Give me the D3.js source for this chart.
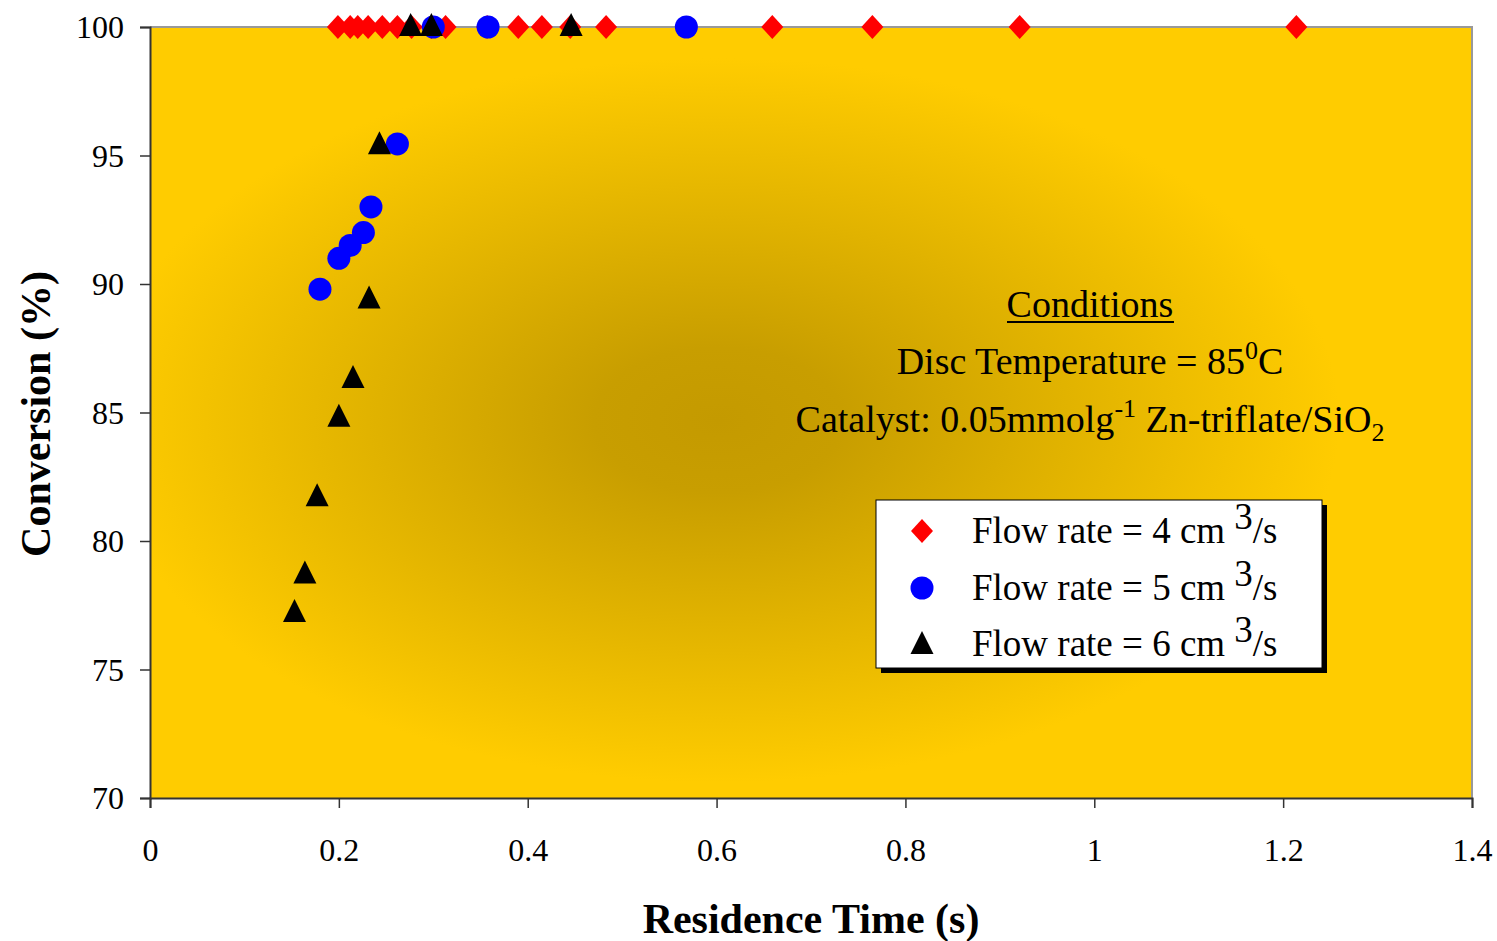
<!DOCTYPE html>
<html><head><meta charset="utf-8">
<script src="https://cdn.jsdelivr.net/npm/d3@7"></script>
<style>body{margin:0;background:#fff}svg{display:block}text{font-family:"Liberation Serif","Times New Roman",serif}</style>
</head><body><svg id="c" width="1497" height="941"></svg>
<script>
const flow4X = [0.199,0.212,0.220,0.231,0.246,0.262,0.277,0.298,0.313,0.357,0.390,0.415,0.445,0.483,0.659,0.765,0.921,1.214];
const flow4Y = [100,100,100,100,100,100,100,100,100,100,100,100,100,100,100,100,100,100];
const flow5X = [0.180,0.200,0.212,0.226,0.234,0.262,0.300,0.358,0.568];
const flow5Y = [89.8,91.0,91.5,92.0,93.0,95.45,100,100,100];
const flow6X = [0.153,0.164,0.177,0.200,0.215,0.232,0.243,0.276,0.298,0.446];
const flow6Y = [77.2,78.7,81.7,84.8,86.3,89.4,95.4,100,100,100];
const xTicks = [0,0.2,0.4,0.6,0.8,1,1.2,1.4];
const xTickLabels = ["0","0.2","0.4","0.6","0.8","1","1.2","1.4"];
const yTicks = [70,75,80,85,90,95,100];
const legendLabels = ["Flow rate = 4 cm ","Flow rate = 5 cm ","Flow rate = 6 cm "];

const svg = d3.select("#c");
const L=150,R=1472,T=27,B=798;
const x = d3.scaleLinear().domain([0,1.4]).range([L,R]);
const y = d3.scaleLinear().domain([70,100]).range([B,T]);

const defs = svg.append("defs");
const g = defs.append("radialGradient").attr("id","bg").attr("cx",0.43).attr("cy",0.51).attr("r",0.47);
g.append("stop").attr("offset",0).attr("stop-color","#c49a00");
g.append("stop").attr("offset",0.2).attr("stop-color","#c89e00");
g.append("stop").attr("offset",1).attr("stop-color","#ffcc00");

svg.append("rect").attr("x",L).attr("y",T).attr("width",R-L).attr("height",B-T).attr("fill","url(#bg)");
svg.append("path").attr("d",`M${L},${T}H${R}V${B}`).attr("fill","none").attr("stroke","#999").attr("stroke-width",2);

const xa = svg.append("g").attr("transform",`translate(0,${B})`)
  .call(d3.axisBottom(x).tickValues(xTicks).tickFormat((d,i)=>xTickLabels[i]).tickSize(10).tickPadding(30));
const ya = svg.append("g").attr("transform",`translate(${L},0)`)
  .call(d3.axisLeft(y).tickValues(yTicks).tickSize(10).tickPadding(16));
[xa,ya].forEach(a=>{
  a.select(".domain").attr("stroke","#333").attr("stroke-width",2);
  a.selectAll(".tick line").attr("stroke","#333").attr("stroke-width",1.5);
  a.selectAll(".tick text").attr("font-size",32).attr("fill","#000").style("font-family","Liberation Serif");
});
ya.selectAll(".tick text").attr("dy","0.34em");

svg.append("text").attr("x",811).attr("y",933).attr("text-anchor","middle").attr("font-size",42).attr("font-weight","bold").text("Residence Time (s)");
svg.append("text").attr("transform","translate(50,414) rotate(-90)").attr("text-anchor","middle").attr("font-size",42).attr("font-weight","bold").text("Conversion (%)");

const diamond = d3.symbol().type({draw(ctx){ctx.moveTo(0,-12);ctx.lineTo(11,0);ctx.lineTo(0,12);ctx.lineTo(-11,0);ctx.closePath();}})();
const circle = d3.symbol().type(d3.symbolCircle).size(Math.PI*11.5*11.5)();
const tri = d3.symbol().type({draw(ctx){ctx.moveTo(0,-14);ctx.lineTo(11.5,9);ctx.lineTo(-11.5,9);ctx.closePath();}})();

function series(xs,ys,path,color){
  svg.append("g").selectAll("path").data(xs.map((v,i)=>[v,ys[i]])).join("path")
    .attr("d",path).attr("fill",color)
    .attr("transform",d=>`translate(${x(d[0])},${y(d[1])})`);
}
series(flow4X,flow4Y,diamond,"#ff0000");
series(flow5X,flow5Y,circle,"#0000ff");
series(flow6X,flow6Y,tri,"#000000");

const cx=1090;
svg.append("text").attr("x",cx).attr("y",317).attr("text-anchor","middle").attr("font-size",38).text("Conditions");
svg.append("line").attr("x1",1007).attr("x2",1174).attr("y1",322).attr("y2",322).attr("stroke","#000").attr("stroke-width",2);
const t2 = svg.append("text").attr("x",cx).attr("y",374).attr("text-anchor","middle").attr("font-size",38);
t2.append("tspan").text("Disc Temperature = 85");
t2.append("tspan").attr("dy",-15).attr("font-size",26).text("0");
t2.append("tspan").attr("dy",15).text("C");
const t3 = svg.append("text").attr("x",cx).attr("y",432).attr("text-anchor","middle").attr("font-size",38);
t3.append("tspan").text("Catalyst: 0.05mmolg");
t3.append("tspan").attr("dy",-15).attr("font-size",26).text("-1");
t3.append("tspan").attr("dy",15).text(" Zn-triflate/SiO");
t3.append("tspan").attr("dy",9).attr("font-size",26).text("2");

const lg = svg.append("g");
lg.append("rect").attr("x",881).attr("y",505).attr("width",446).attr("height",168).attr("fill","#000");
lg.append("rect").attr("x",876).attr("y",500).attr("width",446).attr("height",168).attr("fill","#fff").attr("stroke","#000").attr("stroke-width",1);
const lpaths=[diamond,circle,tri], lcols=["#ff0000","#0000ff","#000000"], rowsY=[531,588,644];
legendLabels.forEach((lab,i)=>{
  lg.append("path").attr("d",lpaths[i]).attr("fill",lcols[i]).attr("transform",`translate(922,${rowsY[i]+(i==2?1:0)})`);
  const t = lg.append("text").attr("x",972).attr("y",rowsY[i]+12).attr("font-size",37);
  t.append("tspan").text(lab);
  t.append("tspan").attr("dy",-14).text("3");
  t.append("tspan").attr("dy",14).text("/s");
});
</script></body></html>
